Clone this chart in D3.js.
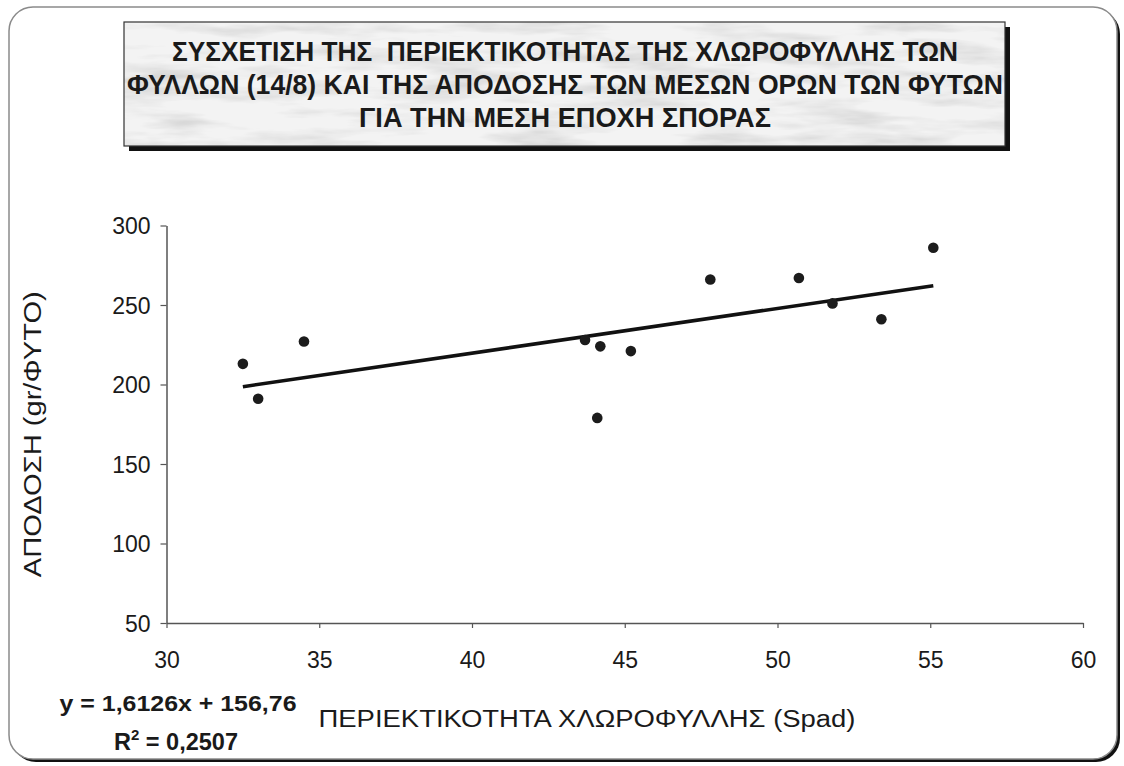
<!DOCTYPE html>
<html>
<head>
<meta charset="utf-8">
<script src="https://cdn.jsdelivr.net/npm/d3@7"></script>
<style>
  html, body { margin: 0; padding: 0; background: #ffffff; }
  svg { display: block; }
  text { font-family: "Liberation Sans", Arial, sans-serif; fill: #1a1a1a; }
</style>
</head>
<body>
<svg id="chart" width="1124" height="766"></svg>
<script>
// Chlorophyll content (Spad) vs mean plant yield (gr/plant)
const chlorophyll = [32.5, 33.0, 34.5, 43.7, 44.2, 44.1, 45.2, 47.8, 50.7, 51.8, 53.4, 55.1];
const yieldValues = [213, 191, 227, 228, 224, 179, 221, 266, 267, 251, 241, 286];

const xTicks = [30, 35, 40, 45, 50, 55, 60];
const yTicks = [50, 100, 150, 200, 250, 300];

const titleLines = [
  "ΣΥΣΧΕΤΙΣΗ ΤΗΣ  ΠΕΡΙΕΚΤΙΚΟΤΗΤΑΣ ΤΗΣ ΧΛΩΡΟΦΥΛΛΗΣ ΤΩΝ",
  "ΦΥΛΛΩΝ (14/8) ΚΑΙ ΤΗΣ ΑΠΟΔΟΣΗΣ ΤΩΝ ΜΕΣΩΝ ΟΡΩΝ ΤΩΝ ΦΥΤΩΝ",
  "ΓΙΑ ΤΗΝ ΜΕΣΗ ΕΠΟΧΗ ΣΠΟΡΑΣ"
];
const xTitle = "ΠΕΡΙΕΚΤΙΚΟΤΗΤΑ ΧΛΩΡΟΦΥΛΛΗΣ (Spad)";
const yTitle = "ΑΠΟΔΟΣΗ (gr/ΦΥΤΟ)";
const equationText = "y = 1,6126x + 156,76";
const r2Value = "0,2507";

const svg = d3.select("#chart");
const defs = svg.append("defs");

// marbled grey fill for the title panel
const marble = defs.append("filter").attr("id", "marble")
  .attr("x", 0).attr("y", 0).attr("width", 1).attr("height", 1);
marble.append("feTurbulence").attr("type", "fractalNoise")
  .attr("baseFrequency", "0.01 0.06").attr("numOctaves", 4).attr("seed", 11).attr("result", "noise");
marble.append("feColorMatrix").attr("in", "noise").attr("type", "matrix")
  .attr("values", "0 0 0 0 0.35  0 0 0 0 0.35  0 0 0 0 0.35  0 0 0 -2.2 1.25")
  .attr("result", "streaks");
marble.append("feComponentTransfer").attr("in", "streaks").attr("result", "soft")
  .append("feFuncA").attr("type", "linear").attr("slope", 0.45).attr("intercept", 0);
marble.append("feFlood").attr("flood-color", "#f3f3f3").attr("result", "base");
marble.append("feComposite").attr("in", "soft").attr("in2", "base").attr("operator", "over");

// outer chart frame with drop shadow
svg.append("rect")
  .attr("x", 12).attr("y", 10).attr("width", 1108).attr("height", 752)
  .attr("rx", 24).attr("fill", "#111");
svg.append("rect")
  .attr("x", 9).attr("y", 7).attr("width", 1108).attr("height", 752)
  .attr("rx", 24).attr("fill", "#fff").attr("stroke", "#8a8a8a").attr("stroke-width", 1.5);

// title panel
const tb = { x: 124, y: 22, w: 881, h: 124 };
svg.append("rect").attr("x", tb.x + 5).attr("y", tb.y + 5).attr("width", tb.w).attr("height", tb.h).attr("fill", "#111");
svg.append("rect").attr("x", tb.x).attr("y", tb.y).attr("width", tb.w).attr("height", tb.h)
  .attr("fill", "#eee").attr("filter", "url(#marble)");
svg.append("rect").attr("x", tb.x).attr("y", tb.y).attr("width", tb.w).attr("height", tb.h)
  .attr("fill", "none").attr("stroke", "#333").attr("stroke-width", 1.2);

const titleWidths = [786, 876, 412];
svg.append("g").selectAll("text").data(titleLines).join("text")
  .attr("x", 565)
  .attr("y", (d, i) => 60.5 + i * 33)
  .attr("text-anchor", "middle")
  .attr("font-size", 28.5)
  .attr("font-weight", "bold")
  .style("white-space", "pre")
  .attr("textLength", (d, i) => titleWidths[i])
  .attr("lengthAdjust", "spacingAndGlyphs")
  .text(d => d);

// scales
const x = d3.scaleLinear().domain([30, 60]).range([166.5, 1083]);
const y = d3.scaleLinear().domain([50, 300]).range([623, 225.5]);

// axes
const xAxis = svg.append("g").attr("transform", `translate(0,${y(50)})`)
  .call(d3.axisBottom(x).tickValues(xTicks).tickSize(5).tickSizeOuter(0).tickFormat(d3.format("d")));
const yAxis = svg.append("g").attr("transform", `translate(${x(30)},0)`)
  .call(d3.axisLeft(y).tickValues(yTicks).tickSize(6).tickSizeOuter(0).tickFormat(d3.format("d")));

[xAxis, yAxis].forEach(g => {
  g.select(".domain").attr("stroke", "#555").attr("stroke-width", 1.5);
  g.selectAll(".tick line").attr("stroke", "#555").attr("stroke-width", 1.2);
  g.selectAll(".tick text")
    .attr("font-family", "'Liberation Sans', Arial, sans-serif")
    .attr("font-size", 23).attr("fill", "#222");
});
xAxis.selectAll(".tick text").attr("dy", 0).attr("y", 45);
yAxis.selectAll(".tick text").attr("x", -16).attr("dy", "0.36em");

// axis titles
svg.append("text")
  .attr("transform", `translate(41,${(y(50) + y(300)) / 2 + 10}) rotate(-90)`)
  .attr("text-anchor", "middle").attr("font-size", 23)
  .attr("textLength", 286).attr("lengthAdjust", "spacingAndGlyphs")
  .text(yTitle);
svg.append("text")
  .attr("x", 587).attr("y", 727)
  .attr("text-anchor", "middle").attr("font-size", 23)
  .attr("textLength", 537).attr("lengthAdjust", "spacingAndGlyphs")
  .text(xTitle);

// linear trendline fitted to the points (least squares)
const n = chlorophyll.length;
const mx = d3.mean(chlorophyll), my = d3.mean(yieldValues);
let sxy = 0, sxx = 0;
for (let i = 0; i < n; i++) {
  sxy += (chlorophyll[i] - mx) * (yieldValues[i] - my);
  sxx += (chlorophyll[i] - mx) ** 2;
}
const slope = sxy / sxx, intercept = my - slope * mx;
const xr = d3.extent(chlorophyll);
svg.append("line")
  .attr("x1", x(xr[0])).attr("y1", y(intercept + slope * xr[0]))
  .attr("x2", x(xr[1])).attr("y2", y(intercept + slope * xr[1]))
  .attr("stroke", "#111").attr("stroke-width", 3.6);

// data points
svg.append("g").selectAll("circle").data(chlorophyll).join("circle")
  .attr("cx", d => x(d))
  .attr("cy", (d, i) => y(yieldValues[i]))
  .attr("r", 5.3)
  .attr("fill", "#1c1c1c");

// regression equation
svg.append("text").attr("x", 178).attr("y", 711).attr("text-anchor", "middle")
  .attr("font-size", 22).attr("font-weight", "bold")
  .attr("textLength", 237).attr("lengthAdjust", "spacingAndGlyphs")
  .text(equationText);
const r2 = svg.append("text").attr("x", 114).attr("y", 750)
  .attr("font-size", 23.5).attr("font-weight", "bold");
r2.append("tspan").text("R");
r2.append("tspan").attr("font-size", 15).attr("dy", -10).text("2");
r2.append("tspan").attr("dy", 10).text(" = " + r2Value);
</script>
</body>
</html>
